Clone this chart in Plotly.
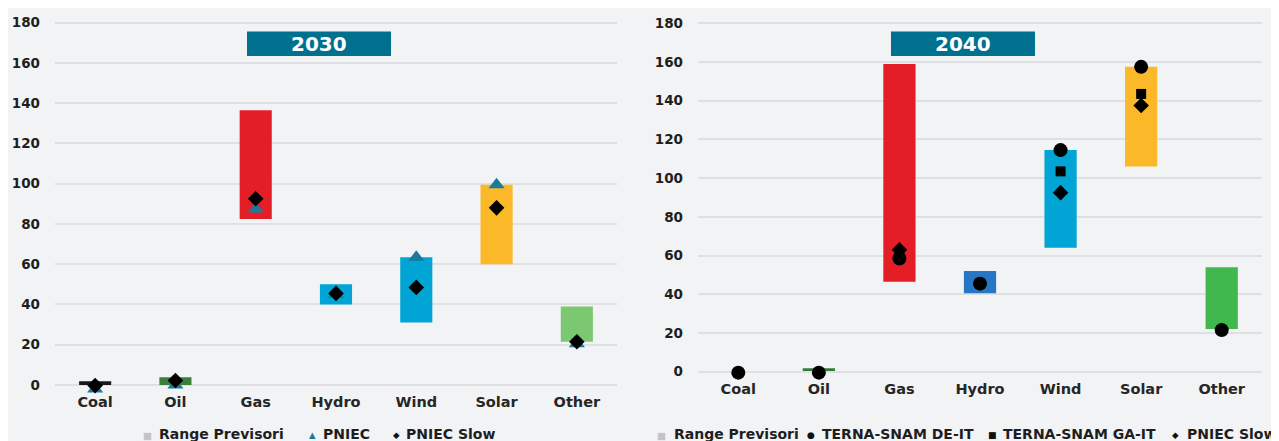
import plotly.graph_objects as go

# Page offset (browser body margin) compensation
OFF = 8
W, H = 1279 - OFF, 441 - OFF

categories = ["Coal", "Oil", "Gas", "Hydro", "Wind", "Solar", "Other"]

# 2030 panel
low_2030 = [0, 0, 82.5, 40, 31, 60, 21.5]
high_2030 = [1.8, 3.8, 136.5, 50, 63.5, 99.5, 39]
colors_2030 = ["#1a1a1a", "#3b7f3a", "#e41e26", "#00a5d5", "#00a5d5", "#fbb829", "#7cc870"]
pniec_2030 = [-2, 0, 87.5, 45, 63.5, 99.5, 20.5]
pniec_slow_2030 = [-0.3, 2.2, 92.5, 45.5, 48.5, 88, 21.5]

# 2040 panel
low_2040 = [0, 0.4, 46.5, 40.5, 64, 106, 22]
high_2040 = [0, 1.8, 159, 52, 114.5, 157.5, 54]
colors_2040 = ["#1a1a1a", "#2f7d3a", "#e41e26", "#2776c6", "#00a5d5", "#fbb829", "#40b84e"]
de_it_2040 = [-0.5, -0.5, 58.5, 45.5, 114.5, 157.5, 21.5]
ga_it_2040 = [None, None, 60.5, 45.5, 103.5, 143.5, 21.5]
pniec_slow_2040 = [None, None, 63, None, 92.5, 137.5, None]

y_ticks = [0, 20, 40, 60, 80, 100, 120, 140, 160, 180]
Y_RANGE = [-3, 186]

FONT = "DejaVu Sans"
BG = "#f2f3f5"
GRID = "#dfe0e3"


def px_x(p):
    return (p - OFF) / W


def px_y(p):
    return (H - (p - OFF)) / H


def y_domain(pix0, pix180):
    per = (pix0 - pix180) / 180.0
    bottom = pix0 - Y_RANGE[0] * per
    top = pix0 - Y_RANGE[1] * per
    return [px_y(bottom), px_y(top)]


fig = go.Figure()

# --- 2030 ---
fig.add_trace(go.Bar(
    x=categories, y=[h - l for h, l in zip(high_2030, low_2030)], base=low_2030,
    marker=dict(color=colors_2030, line=dict(width=0)), width=0.4,
    name="Range Previsori", xaxis="x", yaxis="y", showlegend=False))
fig.add_trace(go.Scatter(
    x=categories, y=pniec_2030, mode="markers", name="PNIEC",
    marker=dict(symbol="triangle-up", size=14, color="#1a7a9a"),
    xaxis="x", yaxis="y", showlegend=False, cliponaxis=False))
fig.add_trace(go.Scatter(
    x=categories, y=pniec_slow_2030, mode="markers", name="PNIEC Slow",
    marker=dict(symbol="diamond", size=12, color="#000000"),
    xaxis="x", yaxis="y", showlegend=False, cliponaxis=False))

# --- 2040 ---
fig.add_trace(go.Bar(
    x=categories, y=[h - l for h, l in zip(high_2040, low_2040)], base=low_2040,
    marker=dict(color=colors_2040, line=dict(width=0)), width=0.4,
    name="Range Previsori", xaxis="x2", yaxis="y2", showlegend=False))
fig.add_trace(go.Scatter(
    x=categories, y=ga_it_2040, mode="markers", name="TERNA-SNAM GA-IT",
    marker=dict(symbol="square", size=10, color="#000000"),
    xaxis="x2", yaxis="y2", showlegend=False, cliponaxis=False))
fig.add_trace(go.Scatter(
    x=categories, y=pniec_slow_2040, mode="markers", name="PNIEC Slow",
    marker=dict(symbol="diamond", size=12, color="#000000"),
    xaxis="x2", yaxis="y2", showlegend=False, cliponaxis=False))
fig.add_trace(go.Scatter(
    x=categories, y=de_it_2040, mode="markers", name="TERNA-SNAM DE-IT",
    marker=dict(symbol="circle", size=14, color="#000000"),
    xaxis="x2", yaxis="y2", showlegend=False, cliponaxis=False))

tickfont = dict(family=FONT, size=13.5, color="#1e1e1e", weight=700)
catfont = dict(family=FONT, size=14.5, color="#262626", weight=700)

common_y = dict(range=Y_RANGE, tickvals=y_ticks, showgrid=True, gridcolor=GRID,
                gridwidth=1.5, zeroline=False, showline=False, tickfont=tickfont,
                ticklabelstandoff=14, fixedrange=True, automargin=False)
common_x = dict(type="category", categoryorder="array", categoryarray=categories,
                showgrid=False, zeroline=False, showline=False, tickfont=catfont,
                range=[-0.5, 6.5], fixedrange=True, automargin=False)

fig.update_layout(
    width=W, height=H,
    paper_bgcolor=BG, plot_bgcolor=BG,
    margin=dict(l=0, r=0, t=0, b=0, pad=0),
    showlegend=False,
    barmode="overlay",
    xaxis=dict(domain=[px_x(55), px_x(617)], anchor="y", ticklabelstandoff=0, **common_x),
    yaxis=dict(domain=y_domain(385, 22.7), anchor="x", **common_y),
    xaxis2=dict(domain=[px_x(698), px_x(1262)], anchor="y2", ticklabelstandoff=1, **common_x),
    yaxis2=dict(domain=y_domain(371.7, 23.3), anchor="x2", **common_y),
)

# Title boxes
for (x0, x1, label) in [(247, 391, "2030"), (891, 1035, "2040")]:
    fig.add_shape(type="rect", xref="paper", yref="paper",
                  x0=px_x(x0), x1=px_x(x1), y0=px_y(56), y1=px_y(31.5),
                  fillcolor="#00708f", line=dict(width=0), layer="above")
    fig.add_annotation(xref="paper", yref="paper", x=px_x((x0 + x1) / 2), y=px_y(43.5),
                       text=label, showarrow=False, xanchor="center", yanchor="middle",
                       font=dict(family=FONT, size=20, color="#ffffff", weight=700))

# Legends (symbol + label, placed as in the reference)
legfont = dict(family=FONT, size=14, color="#1e1e1e", weight=700)
LEG_Y = 434

legend_items = [
    # (symbol x, symbol, symbol color, symbol size, text x, text)
    (147, "■", "#c4c4c4", 9.5, 157, "Range Previsori"),
    (312, "▲", "#1a7a9a", 8.5, 321, "PNIEC"),
    (396, "◆", "#111111", 8.5, 404, "PNIEC Slow"),
    (661, "■", "#c4c4c4", 9.5, 672, "Range Previsori"),
    (811, "●", "#111111", 9, 820, "TERNA-SNAM DE-IT"),
    (992, "■", "#111111", 9, 1001, "TERNA-SNAM GA-IT"),
    (1175, "◆", "#111111", 8.5, 1185, "PNIEC Slow"),
]
for sx, sym, scol, ssize, tx, txt in legend_items:
    fig.add_annotation(xref="paper", yref="paper", x=px_x(sx), y=px_y(LEG_Y + 1),
                       text=sym, showarrow=False, xanchor="center", yanchor="middle",
                       font=dict(family=FONT, size=ssize, color=scol))
    fig.add_annotation(xref="paper", yref="paper", x=px_x(tx), y=px_y(LEG_Y),
                       text=txt, showarrow=False, xanchor="left", yanchor="middle",
                       font=legfont)

fig.write_html("out.html")
